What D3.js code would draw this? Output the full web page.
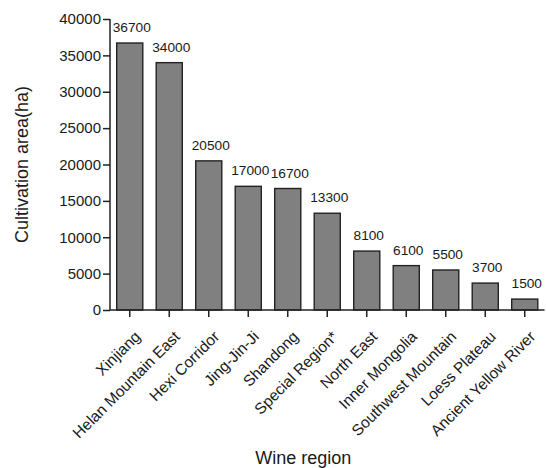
<!DOCTYPE html>
<html>
<head>
<meta charset="utf-8">
<script src="https://cdn.jsdelivr.net/npm/d3@7"></script>
<style>
  body { margin: 0; background: #fff; }
  svg text { font-family: "Liberation Sans", Arial, sans-serif; fill: #1a1a1a; }
</style>
</head>
<body>
<svg id="svg"></svg>
<script>
// wine regions and cultivation area (ha)
var regions = ["Xinjiang", "Helan Mountain East", "Hexi Corridor", "Jing-Jin-Ji", "Shandong",
  "Special Region*", "North East", "Inner Mongolia", "Southwest Mountain", "Loess Plateau",
  "Ancient Yellow River"];
var areas = [36700, 34000, 20500, 17000, 16700, 13300, 8100, 6100, 5500, 3700, 1500];
var yTicks = [0, 5000, 10000, 15000, 20000, 25000, 30000, 35000, 40000];

var W = 546, H = 468;
var margin = {top: 19, right: 1.5, bottom: 158, left: 110};

svg = d3.select("#svg").attr("width", W).attr("height", H);

g = svg.append("g").attr("transform", "translate(" + margin.left + " " + margin.top + ")");

var w = W - margin.left - margin.right,
    h = H - margin.top - margin.bottom;

var x = d3.scaleBand().domain(regions).range([0, w]).paddingInner(0.34).paddingOuter(0.17);
var y = d3.scaleLinear().domain([0, 40000]).range([h, 0]);

// bars
g.selectAll(".bar").data(areas).enter()
  .append("rect").attr("class", "bar")
    .attr("x", (d, i) => x(regions[i]))
    .attr("y", d => y(d))
    .attr("width", x.bandwidth())
    .attr("height", d => h - y(d))
    .attr("fill", "#808080")
    .attr("stroke", "#222")
    .attr("stroke-width", 1.4);

// value labels
g.selectAll(".val").data(areas).enter()
  .append("text").attr("class", "val")
    .attr("x", (d, i) => x(regions[i]) + x.bandwidth() / 2 + 2)
    .attr("y", d => y(d) - 11)
    .attr("text-anchor", "middle")
    .attr("font-size", 13.7)
    .text(d => d);

// y axis
yAx = g.append("g").call(d3.axisLeft(y).tickValues(yTicks).tickSize(7).tickPadding(2).tickFormat(d3.format("d")));
yAx.selectAll("text").attr("font-size", 15).attr("font-family", null);
yAx.select(".domain").attr("d", "M0," + h + "V0").attr("stroke", "#222").attr("stroke-width", 1.5);
yAx.selectAll("line").attr("stroke", "#222").attr("stroke-width", 1.5);

// x axis
xAx = g.append("g").attr("transform", "translate(0 " + h + ")")
  .call(d3.axisBottom(x).tickSize(7).tickPadding(4));
xAx.select(".domain").attr("d", "M0,0H" + w).attr("stroke", "#222").attr("stroke-width", 1.5);
xAx.selectAll("line").attr("stroke", "#222").attr("stroke-width", 1.5);
xAx.selectAll("text")
    .attr("font-size", 15.5).attr("font-family", null)
    .attr("text-anchor", "end")
    .attr("dy", "0.35em")
    .attr("transform", "translate(0 16) rotate(-45)");

// axis titles
svg.append("text")
    .attr("x", margin.left + w / 2 - 24)
    .attr("y", 464)
    .attr("text-anchor", "middle")
    .attr("font-size", 18)
    .text("Wine region");

svg.append("text")
    .attr("transform", "translate(28 " + (margin.top + h / 2) + ") rotate(-90)")
    .attr("text-anchor", "middle")
    .attr("font-size", 18)
    .text("Cultivation area(ha)");
</script>
</body>
</html>
